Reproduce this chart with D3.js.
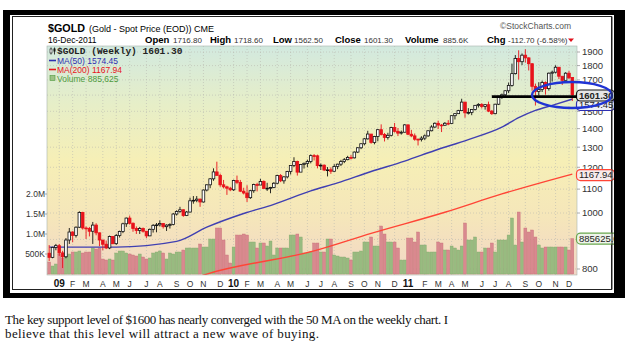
<!DOCTYPE html>
<html>
<head>
<meta charset="utf-8">
<script src="https://cdn.jsdelivr.net/npm/d3@7"></script>
<style>
  body { margin: 0; background: #fff; }
  svg { display: block; font-family: Arial, "Liberation Sans", sans-serif; }
</style>
</head>
<body>
<div id="chart"></div>
<script>
// ==========================
// Data (weekly bars, first bar = week ending 19-Dec-2008)
// ==========================
const firstWeek = new Date(2008, 11, 19);
const firstOpen = 852;
const lastOpen = 1716.8;

const closes = [
  838, 872, 878, 853, 840, 898, 927, 914, 945, 1002,
  942, 940, 930, 953, 924, 898, 883, 870, 911, 885,
  914, 929, 958, 980, 960, 940, 933, 940, 930, 913,
  937, 952, 954, 959, 947, 953, 955, 996, 1006, 1013,
  990, 1004, 1050, 1052, 1057, 1045, 1096, 1119, 1146, 1178,
  1162, 1119, 1110, 1104, 1097, 1138, 1130, 1091, 1083, 1063,
  1093, 1120, 1118, 1134, 1103, 1104, 1107, 1126, 1161, 1137,
  1155, 1180, 1209, 1228, 1177, 1213, 1219, 1228, 1257, 1256,
  1208, 1210, 1187, 1188, 1181, 1204, 1215, 1228, 1237, 1248,
  1246, 1275, 1297, 1318, 1344, 1370, 1325, 1357, 1394, 1368,
  1352, 1363, 1406, 1385, 1375, 1380, 1421, 1369, 1360, 1342,
  1341, 1348, 1360, 1388, 1409, 1430, 1420, 1419, 1430, 1429,
  1474, 1486, 1504, 1556, 1491, 1493, 1511, 1536, 1542, 1529,
  1540, 1501, 1486, 1543, 1593, 1602, 1628, 1663, 1743, 1852,
  1828, 1876, 1856, 1813, 1657, 1624, 1636, 1682, 1642, 1746,
  1753, 1788, 1725, 1697, 1746, 1714, 1601.3
];

const highs = [
  880, 874, 884, 884, 860, 905, 942, 930, 948, 1007,
  1005, 948, 946, 965, 960, 925, 897, 896, 914, 912,
  920, 932, 962, 982, 990, 963, 948, 946, 944, 930,
  940, 957, 961, 971, 961, 956, 960, 1000, 1011, 1025,
  1015, 1008, 1063, 1070, 1070, 1059, 1098, 1121, 1149, 1195,
  1227, 1170, 1141, 1115, 1110, 1142, 1161, 1141, 1106, 1117,
  1097, 1124, 1128, 1146, 1139, 1128, 1110, 1131, 1165, 1168,
  1158, 1183, 1211, 1249, 1232, 1216, 1223, 1237, 1263, 1265,
  1262, 1218, 1214, 1201, 1200, 1215, 1217, 1236, 1245, 1256,
  1260, 1278, 1300, 1320, 1349, 1388, 1346, 1360, 1398, 1424,
  1376, 1377, 1410, 1432, 1403, 1389, 1425, 1422, 1393, 1373,
  1346, 1358, 1368, 1389, 1419, 1435, 1445, 1426, 1437, 1448,
  1476, 1489, 1509, 1577, 1558, 1519, 1513, 1538, 1549, 1549,
  1544, 1559, 1508, 1545, 1595, 1610, 1632, 1682, 1814, 1877,
  1913, 1889, 1921, 1860, 1818, 1675, 1684, 1695, 1690, 1751,
  1764, 1802, 1789, 1721, 1753, 1762, 1718.6
];

const lows = [
  826, 835, 862, 843, 803, 835, 884, 890, 907, 942,
  936, 902, 911, 884, 915, 876, 862, 866, 866, 883,
  881, 907, 923, 946, 955, 928, 920, 920, 925, 905,
  912, 925, 926, 948, 940, 931, 940, 952, 990, 1001,
  985, 988, 1002, 1038, 1044, 1025, 1043, 1090, 1104, 1137,
  1160, 1110, 1103, 1075, 1091, 1092, 1122, 1087, 1077, 1045,
  1058, 1084, 1090, 1118, 1102, 1092, 1082, 1104, 1122, 1131,
  1124, 1148, 1166, 1201, 1161, 1178, 1194, 1200, 1219, 1233,
  1195, 1187, 1182, 1157, 1169, 1179, 1191, 1206, 1220, 1234,
  1238, 1243, 1270, 1290, 1310, 1340, 1318, 1315, 1331, 1362,
  1330, 1340, 1357, 1378, 1359, 1367, 1379, 1364, 1353, 1334,
  1309, 1330, 1337, 1355, 1385, 1404, 1398, 1381, 1415, 1419,
  1427, 1452, 1485, 1503, 1462, 1481, 1477, 1505, 1523, 1517,
  1510, 1495, 1478, 1482, 1538, 1576, 1582, 1613, 1655, 1737,
  1702, 1803, 1821, 1765, 1628, 1535, 1598, 1620, 1603, 1629,
  1689, 1745, 1705, 1666, 1699, 1706, 1562.5
];

// weekly volume, thousands of contracts
const volumes = [
  300, 200, 250, 500, 400, 450, 500, 550, 550, 575,
  525, 550, 550, 650, 625, 650, 375, 350, 375, 350,
  525, 575, 575, 525, 500, 475, 450, 500, 425, 375,
  400, 525, 550, 575, 525, 375, 525, 500, 550, 550,
  600, 650, 650, 650, 650, 750, 675, 675, 875, 875,
  1150, 1150, 850, 475, 275, 675, 975, 975, 1000, 975,
  800, 800, 650, 775, 775, 700, 825, 475, 650, 650,
  650, 650, 975, 975, 1000, 925, 525, 525, 550, 775,
  775, 550, 550, 875, 875, 475, 450, 425, 425, 400,
  350, 550, 550, 575, 800, 800, 925, 700, 700, 1200,
  1000, 800, 800, 800, 650, 350, 350, 900, 900, 800,
  1050, 725, 725, 550, 550, 550, 800, 775, 600, 600,
  700, 650, 600, 700, 1275, 850, 850, 925, 550, 550,
  650, 650, 775, 550, 850, 850, 850, 975, 1400, 725,
  1550, 800, 1150, 1050, 1100, 925, 725, 650, 675, 675,
  675, 675, 675, 675, 675, 600, 885.625
];

// moving averages read at a few weeks: [week index, value]
const ma50 = [
  [0, 873], [20, 873], [38, 893], [47, 945], [58, 998], [67, 1035],
  [78, 1092], [86, 1128], [96, 1180], [106, 1230], [115, 1283],
  [125, 1340], [135, 1408], [140, 1462], [145, 1505], [150, 1536],
  [156, 1574.45]
];
const ma200 = [
  [44, 774], [47, 784], [79, 860], [96, 922], [118, 1003],
  [135, 1079], [156, 1167.94]
];

const priceGrid = [800, 900, 1000, 1100, 1200, 1300, 1400, 1500, 1600, 1700, 1800, 1900];
// 900 and 1600 sit under the value tags in the original, so they have no label
const priceLabels = [800, 1000, 1100, 1200, 1300, 1400, 1500, 1700, 1800, 1900];
const volumeTicks = [500000, 1000000, 1500000, 2000000];
const volumeTickLabels = ["500K", "1.0M", "1.5M", "2.0M"];
const monthLetters = ["J", "F", "M", "A", "M", "J", "J", "A", "S", "O", "N", "D"];
const supportLevel = 1600;

// ==========================
// Layout
// ==========================
const width = 630;
const height = 351;
const plot = { left: 47, top: 46, right: 577, bottom: 275 };

const n = closes.length;
const bars = closes.map((c, i) => ({
  i: i,
  date: d3.timeWeek.offset(firstWeek, i),
  open: i === 0 ? firstOpen : (i === n - 1 ? lastOpen : closes[i - 1]),
  high: highs[i],
  low: lows[i],
  close: c,
  volume: volumes[i] * 1000,
  down: i === 0 ? c < firstOpen : c < closes[i - 1]
}));

const svg = d3.select("#chart")
  .append("svg")
  .attr("width", width)
  .attr("height", height);

const defs = svg.append("defs");
const grad = defs.append("linearGradient")
  .attr("id", "bg")
  .attr("x1", 0).attr("y1", 0).attr("x2", 0).attr("y2", 1);
[[0, "#d2e9df"], [0.25, "#e6eec8"], [0.5, "#f6efb6"], [0.75, "#f5e6ba"], [1, "#f2d6c6"]]
  .forEach(s => grad.append("stop").attr("offset", s[0]).attr("stop-color", s[1]));

defs.append("clipPath").attr("id", "plotclip")
  .append("rect")
  .attr("x", plot.left).attr("y", plot.top)
  .attr("width", plot.right - plot.left)
  .attr("height", plot.bottom - plot.top);

// ==========================
// Frame
// ==========================
svg.append("rect").attr("x", 3).attr("y", 10).attr("width", 622).attr("height", 288).attr("fill", "#000");
svg.append("rect").attr("x", 10).attr("y", 15).attr("width", 604).attr("height", 278).attr("fill", "#fff");
svg.append("rect").attr("x", 12.5).attr("y", 16.5).attr("width", 599).attr("height", 273)
  .attr("fill", "#fff").attr("stroke", "#222").attr("stroke-width", 1);

// ==========================
// Scales
// ==========================
const x = d3.scaleBand()
  .domain(d3.range(n))
  .range([47.5, 574]);

const xc = i => x(i) + x.bandwidth() / 2;

const y = d3.scaleLog()
  .domain([800, 1900])
  .range([269, 52]);

const yv = d3.scaleLinear()
  .domain([0, 2000000])
  .range([274, 194]);

// ==========================
// Plot background & grid
// ==========================
svg.append("rect")
  .attr("x", plot.left).attr("y", plot.top)
  .attr("width", plot.right - plot.left)
  .attr("height", plot.bottom - plot.top)
  .attr("fill", "url(#bg)");

// month labels sit on the first bar whose Monday falls in a new month
const monthMarks = [];
bars.forEach((b, i) => {
  if (i === 0) return;
  const mon = d3.timeDay.offset(b.date, -4);
  const prev = d3.timeDay.offset(bars[i - 1].date, -4);
  if (mon.getMonth() !== prev.getMonth()) {
    monthMarks.push({ i: i, month: mon.getMonth(), year: mon.getFullYear() });
  }
});

const grid = svg.append("g").attr("stroke", "#b9b9b0").attr("stroke-width", 0.6).attr("stroke-dasharray", "1,2");
grid.selectAll(".vgrid")
  .data(monthMarks)
  .enter()
  .append("line")
  .attr("x1", d => xc(d.i)).attr("x2", d => xc(d.i))
  .attr("y1", plot.top).attr("y2", plot.bottom);
grid.selectAll(".hgrid")
  .data(priceGrid)
  .enter()
  .append("line")
  .attr("x1", plot.left).attr("x2", plot.right)
  .attr("y1", d => y(d)).attr("y2", d => y(d));

const plotG = svg.append("g").attr("clip-path", "url(#plotclip)");

// ==========================
// Volume bars
// ==========================
plotG.selectAll(".vol")
  .data(bars)
  .enter()
  .append("rect")
  .attr("x", d => x(d.i) + 0.2)
  .attr("width", x.step() - 0.4)
  .attr("y", d => yv(d.volume))
  .attr("height", d => yv(0) - yv(d.volume))
  .attr("fill", d => d.down ? "#d9898f" : "#98bb80")
  .attr("stroke", d => d.down ? "#c77078" : "#82a86c")
  .attr("stroke-width", 0.4);

// ==========================
// Moving averages
// ==========================
const maLine = d3.line()
  .x(d => xc(d[0]))
  .y(d => y(d[1]))
  .curve(d3.curveMonotoneX);

plotG.append("path")
  .datum(ma200)
  .attr("d", maLine)
  .attr("fill", "none")
  .attr("stroke", "#ff4536")
  .attr("stroke-width", 1.4);

plotG.append("path")
  .datum(ma50)
  .attr("d", maLine)
  .attr("fill", "none")
  .attr("stroke", "#3f3fb2")
  .attr("stroke-width", 1.4);

// ==========================
// Candles
// ==========================
const candles = plotG.selectAll(".candle")
  .data(bars)
  .enter()
  .append("g")
  .attr("class", "candle");

candles.append("line")
  .attr("x1", d => xc(d.i)).attr("x2", d => xc(d.i))
  .attr("y1", d => y(d.high)).attr("y2", d => y(d.low))
  .attr("stroke", d => d.down ? "#e8121b" : "#111")
  .attr("stroke-width", 0.9);

candles.append("rect")
  .attr("x", d => xc(d.i) - 1.3)
  .attr("width", 2.6)
  .attr("y", d => y(Math.max(d.open, d.close)))
  .attr("height", d => Math.max(0.8, Math.abs(y(d.open) - y(d.close))))
  .attr("fill", d => d.close < d.open ? (d.down ? "#e8121b" : "#111") : "#fff")
  .attr("stroke", d => d.down ? "#e8121b" : "#111")
  .attr("stroke-width", 0.8);

// ==========================
// Plot border
// ==========================
svg.append("rect")
  .attr("x", plot.left).attr("y", plot.top)
  .attr("width", plot.right - plot.left)
  .attr("height", plot.bottom - plot.top)
  .attr("fill", "none")
  .attr("stroke", "#a9b4ad")
  .attr("stroke-width", 0.6);

// ==========================
// Axes
// ==========================
svg.append("g").selectAll("text")
  .data(priceLabels)
  .enter()
  .append("text")
  .attr("x", 582)
  .attr("y", d => y(d) + 3.3)
  .attr("font-size", 9.5)
  .attr("fill", "#333")
  .text(d => d);

svg.append("g").selectAll("line")
  .data(priceGrid)
  .enter()
  .append("line")
  .attr("x1", plot.right).attr("x2", plot.right + 3)
  .attr("y1", d => y(d)).attr("y2", d => y(d))
  .attr("stroke", "#777").attr("stroke-width", 0.6);

const volAxis = svg.append("g");
volAxis.selectAll("text")
  .data(volumeTicks)
  .enter()
  .append("text")
  .attr("x", 45)
  .attr("y", d => yv(d) + 3.2)
  .attr("text-anchor", "end")
  .attr("font-size", 8.5)
  .attr("fill", "#333")
  .text((d, i) => volumeTickLabels[i]);
volAxis.selectAll("line")
  .data(volumeTicks)
  .enter()
  .append("line")
  .attr("x1", 45).attr("x2", plot.left)
  .attr("y1", d => yv(d)).attr("y2", d => yv(d))
  .attr("stroke", "#777").attr("stroke-width", 0.6);

svg.append("g").selectAll("text")
  .data(monthMarks)
  .enter()
  .append("text")
  .attr("x", d => xc(d.i))
  .attr("y", 286.5)
  .attr("text-anchor", "middle")
  .attr("font-size", d => d.month === 0 ? 10 : 8.5)
  .attr("font-weight", d => d.month === 0 ? "bold" : "normal")
  .attr("fill", d => d.month === 0 ? "#111" : "#333")
  .text(d => d.month === 0 ? String(d.year).slice(2) : monthLetters[d.month]);

// ==========================
// Header
// ==========================
const header = svg.append("g").attr("fill", "#000");
header.append("text").attr("x", 48).attr("y", 32)
  .attr("font-size", 11.5).attr("font-weight", "bold")
  .attr("textLength", 37).attr("lengthAdjust", "spacingAndGlyphs")
  .text("$GOLD");
header.append("text").attr("x", 89).attr("y", 32)
  .attr("font-size", 9).text("(Gold - Spot Price (EOD)) CME");
header.append("text").attr("x", 571).attr("y", 28.5).attr("text-anchor", "end")
  .attr("font-size", 8.5).attr("fill", "#555").text("\u00a9StockCharts.com");
header.append("text").attr("x", 48).attr("y", 43)
  .attr("font-size", 8.5).text("16-Dec-2011");

const quoteItems = [
  { x: 145, label: "Open", vx: 173, value: "1716.80" },
  { x: 210, label: "High", vx: 234, value: "1718.60" },
  { x: 273, label: "Low", vx: 294, value: "1562.50" },
  { x: 335, label: "Close", vx: 364, value: "1601.30" },
  { x: 405, label: "Volume", vx: 443, value: "885.6K" },
  { x: 487, label: "Chg", vx: 508, value: "-112.70 (-6.58%)" }
];
quoteItems.forEach(q => {
  header.append("text").attr("x", q.x).attr("y", 43)
    .attr("font-size", 9.5).attr("font-weight", "bold").text(q.label);
  header.append("text").attr("x", q.vx).attr("y", 43)
    .attr("font-size", 8).attr("fill", "#333").text(q.value);
});
header.append("path")
  .attr("d", "M568,38.5 L574,38.5 L571,42 Z")
  .attr("fill", "#e0101a");

// ==========================
// Legend inside plot
// ==========================
const legend = svg.append("g");
legend.append("line").attr("x1", 51).attr("x2", 51).attr("y1", 47.5).attr("y2", 54.5).attr("stroke", "#111").attr("stroke-width", 0.8);
legend.append("rect").attr("x", 50).attr("y", 49).attr("width", 2).attr("height", 4).attr("fill", "#fff").attr("stroke", "#111").attr("stroke-width", 0.6);
legend.append("line").attr("x1", 54.5).attr("x2", 54.5).attr("y1", 47.5).attr("y2", 54.5).attr("stroke", "#111").attr("stroke-width", 0.8);
legend.append("rect").attr("x", 53.5).attr("y", 48.5).attr("width", 2).attr("height", 3).attr("fill", "#111");
legend.append("text").attr("x", 57).attr("y", 54)
  .attr("font-family", "'Liberation Mono', 'DejaVu Sans Mono', monospace")
  .attr("font-size", 9.5).attr("font-weight", "bold").attr("fill", "#222")
  .text("$GOLD (Weekly) 1601.30");

const legendRows = [
  { y: 63.5, color: "#2f2fb0", text: "MA(50) 1574.45", mark: "line" },
  { y: 72.5, color: "#e8141b", text: "MA(200) 1167.94", mark: "line" },
  { y: 81.5, color: "#4f9a3c", text: "Volume 885,625", mark: "box" }
];
legendRows.forEach(r => {
  if (r.mark === "line") {
    legend.append("line").attr("x1", 49).attr("x2", 56).attr("y1", r.y - 3).attr("y2", r.y - 3)
      .attr("stroke", r.color).attr("stroke-width", 1.6);
  } else {
    legend.append("rect").attr("x", 50).attr("y", r.y - 6).attr("width", 5).attr("height", 5)
      .attr("fill", "#9cc286").attr("stroke", r.color).attr("stroke-width", 0.6);
  }
  legend.append("text").attr("x", 57).attr("y", r.y)
    .attr("font-size", 8.5).attr("fill", r.color).text(r.text);
});

// ==========================
// Right-hand value tags
// ==========================
function tag(cy, label, border, fill, bold, w) {
  const g = svg.append("g");
  g.append("rect")
    .attr("x", 576.5).attr("y", cy - 5.5)
    .attr("width", w).attr("height", 11)
    .attr("rx", 4)
    .attr("fill", fill)
    .attr("stroke", border)
    .attr("stroke-width", 1.2);
  g.append("text")
    .attr("x", 579).attr("y", cy + 3.3)
    .attr("font-size", 9.5)
    .attr("font-weight", bold ? "bold" : "normal")
    .attr("fill", "#222")
    .text(label);
}
tag(105, "1574.45", "#2f2fb0", "#eef0f8", false, 38);
tag(95.5, "1601.30", "#111", "#e6e6e6", true, 38);
tag(y(1167.94) + 1, "1167.94", "#ff4536", "#f7ecec", false, 38);
tag(yv(885625), "885625.0", "#6aa84f", "#eef4ea", false, 44);

// ==========================
// Annotations: support line and circle
// ==========================
svg.append("line")
  .attr("x1", xc(132)).attr("x2", plot.right)
  .attr("y1", y(supportLevel) + 1.5).attr("y2", y(supportLevel) + 1.5)
  .attr("stroke", "#000")
  .attr("stroke-width", 2.6);

svg.append("ellipse")
  .attr("cx", 572).attr("cy", 95)
  .attr("rx", 40).attr("ry", 13)
  .attr("fill", "none")
  .attr("stroke", "#1f33d4")
  .attr("stroke-width", 2.4);

// right frame edge drawn again so tags are clipped like the original
svg.append("rect").attr("x", 614).attr("y", 10).attr("width", 11).attr("height", 288).attr("fill", "#000");
svg.append("line").attr("x1", 612).attr("x2", 612).attr("y1", 16.5).attr("y2", 289.5).attr("stroke", "#222");

// ==========================
// Caption
// ==========================
const caption = svg.append("g")
  .attr("font-family", "'Liberation Serif', 'DejaVu Serif', serif")
  .attr("font-size", 13)
  .attr("fill", "#111");
caption.append("text").attr("x", 5).attr("y", 324)
  .attr("textLength", 443).attr("lengthAdjust", "spacing")
  .text("The key support level of $1600 has nearly converged with the 50 MA on the weekly chart. I");
caption.append("text").attr("x", 5).attr("y", 338)
  .attr("textLength", 314).attr("lengthAdjust", "spacing")
  .text("believe that this level will attract a new wave of buying.");
</script>
</body>
</html>
